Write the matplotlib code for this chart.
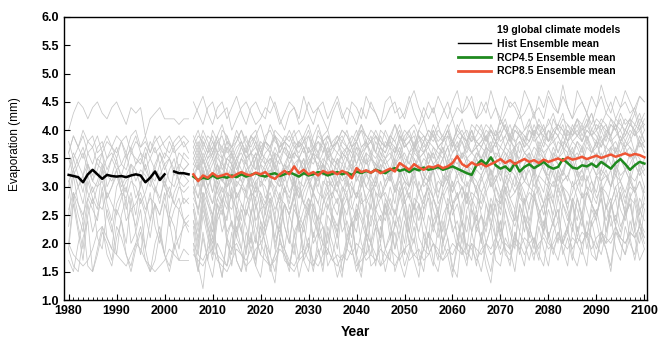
import numpy as np
import matplotlib.pyplot as plt
from matplotlib.lines import Line2D

plt.rcParams['font.family'] = ['Liberation Sans', 'DejaVu Sans']

HIST_START = 1980
FUT_START = 2006

# ensemble means (nan = gap in the curve)
hist_mean = [3.21, 3.19, 3.17, 3.08, 3.22, 3.30, 3.22, 3.14, 3.21, 3.19,
             3.18, 3.19, 3.17, 3.20, 3.22, 3.20, 3.08, 3.16, 3.27, 3.12,
             3.22, np.nan, 3.27, 3.24, 3.24, 3.22]

rcp45_mean = [3.18, 3.12, 3.16, 3.14, 3.20, 3.15, 3.18, 3.16, 3.20, 3.17,
              3.22, 3.18, 3.21, 3.24, 3.20, 3.18, 3.22, 3.24, 3.19, 3.22,
              3.26, 3.22, 3.18, 3.24, 3.20, 3.22, 3.26, 3.24, 3.20, 3.23,
              3.26, 3.22, 3.25, 3.21, 3.27, 3.24, 3.28, 3.25, 3.30, 3.27,
              3.24, 3.30, 3.33, 3.28, 3.31, 3.26, 3.32, 3.29, 3.34, 3.30,
              3.32, 3.35, 3.30, 3.33, 3.36, 3.32, 3.28, 3.24, 3.21, 3.38,
              3.47, 3.40, 3.52, 3.38, 3.32, 3.36, 3.28, 3.42, 3.27, 3.35,
              3.40, 3.33, 3.38, 3.44, 3.36, 3.32, 3.35, 3.49, 3.42, 3.34,
              3.32, 3.38, 3.36, 3.41, 3.35, 3.44, 3.38, 3.32, 3.42, 3.49,
              3.40, 3.30, 3.38, 3.44, 3.41]

rcp85_mean = [3.22, 3.10, 3.20, 3.16, 3.24, 3.18, 3.20, 3.23, 3.17, 3.22,
              3.26, 3.22, 3.20, 3.25, 3.22, 3.26, 3.18, 3.14, 3.22, 3.28,
              3.22, 3.36, 3.24, 3.30, 3.22, 3.26, 3.20, 3.28, 3.24, 3.27,
              3.22, 3.28, 3.24, 3.15, 3.33, 3.26, 3.29, 3.25, 3.30, 3.24,
              3.28, 3.32, 3.27, 3.42, 3.36, 3.30, 3.40, 3.34, 3.30, 3.36,
              3.34, 3.38, 3.33, 3.36, 3.42, 3.54, 3.40, 3.35, 3.43, 3.38,
              3.41, 3.36, 3.40, 3.44, 3.49, 3.42, 3.47, 3.40, 3.45, 3.49,
              3.44, 3.47, 3.42, 3.48, 3.44, 3.47, 3.50, 3.46, 3.52, 3.48,
              3.50, 3.53, 3.49, 3.52, 3.55, 3.51, 3.54, 3.57, 3.53, 3.56,
              3.59, 3.55, 3.58, 3.56, 3.52]

# individual GCMs, values in tenths of mm (1980-2005)
gcm_hist = [
    "40 43 45 44 42 44 45 43 42 44 45 43 41 44 43 44 39 42 43 44 42 42 42 41 42 42",
    "36 39 37 40 38 37 39 36 38 37 39 38 36 39 40 37 38 36 39 37 38 39 37 38 39 38",
    "38 35 37 39 36 34 37 38 35 37 36 38 35 37 39 36 35 38 36 37 35 38 36 37 38 36",
    "36 33 35 37 34 32 35 36 33 35 37 34 33 36 35 34 37 35 33 36 34 35 37 33 36 35",
    "30 35 32 29 34 31 33 36 30 32 35 31 29 34 33 30 36 32 31 34 30 33 35 31 33 34",
    "28 33 30 27 32 29 31 34 28 30 33 29 31 32 28 30 34 31 29 32 30 28 33 31 30 31",
    "25 32 27 24 31 28 26 33 27 24 30 32 26 29 25 31 28 24 30 27 32 25 29 31 27 28",
    "23 29 25 22 28 26 24 30 25 22 27 29 24 26 23 28 25 21 27 25 29 23 26 28 24 25",
    "19 16 15 21 24 15 18 22 20 17 23 21 18 16 20 23 19 15 17 22 18 15 19 21 23 24",
    "20 18 17 16 17 19 22 23 21 19 18 17 16 18 20 19 17 16 15 16 17 19 18 17 17 17",
    "20 28 23 19 27 22 25 29 21 19 26 24 20 28 22 18 25 29 23 20 27 24 19 26 24 23",
    "35 32 34 36 33 31 35 34 32 35 33 34 36 32 34 35 33 31 34 36 33 35 32 34 33 34",
    "31 28 30 32 29 27 30 31 28 30 32 29 28 31 30 27 29 32 30 28 31 29 27 30 29 30",
    "36 39 37 35 38 39 36 37 39 37 35 38 39 36 38 37 39 36 38 39 37 36 38 39 37 38",
    "26 29 27 25 28 30 27 26 29 27 25 28 30 26 27 29 26 28 27 25 28 30 27 26 28 27",
    "19 27 22 17 25 28 21 19 26 23 18 25 28 20 22 26 19 24 27 21 18 25 23 19 24 22",
    "33 36 34 32 36 37 34 33 35 36 34 32 35 37 34 36 33 35 37 34 36 35 33 36 35 34",
    "31 33 30 32 34 31 30 33 32 31 33 30 32 34 31 33 32 30 33 32 34 31 30 33 32 31",
    "17 15 20 24 16 15 19 23 18 16 21 24 18 15 19 22 17 15 20 23 18 16 20 17 19 18",
]

# individual GCM runs, RCP4.5, values in tenths of mm (2006-2100)
gcm_rcp45 = [
    "45 43 41 44 45 42 43 44 40 42 44 45 43 41 42 44 43 45 42 40 43 44 41 42 45 43 44 42 40 43 "
    "45 42 44 43 41 44 42 45 43 41 42 44 45 42 43 46 43 41 44 42 44 41 43 45 42 44 43 46 44 42 "
    "43 45 42 44 41 43 45 44 42 43 45 43 44 42 46 44 43 48 44 42 44 45 43 41 44 46 43 45 42 44 "
    "45 43 44 46 45",
    "39 37 40 38 36 39 41 38 37 40 38 36 39 40 37 38 41 39 37 38 40 38 37 39 41 38 36 39 40 37 "
    "38 40 39 37 38 41 39 38 40 38 37 39 41 38 40 39 37 40 42 39 38 40 39 41 38 40 42 39 38 41 "
    "40 38 41 39 40 42 39 41 40 38 41 43 40 39 42 40 41 43 39 40 42 40 41 43 40 42 41 39 42 41 "
    "40 42 41 43 40",
    "36 38 35 37 39 36 35 38 37 35 37 39 36 35 38 37 36 39 38 36 35 37 38 36 39 37 35 38 36 37 "
    "38 36 37 39 38 35 37 38 36 39 37 38 36 39 37 38 40 37 36 38 39 37 38 40 37 39 38 36 39 38 "
    "37 39 40 38 37 39 41 38 39 37 38 40 39 37 40 38 39 41 38 40 39 38 40 39 37 40 41 38 39 40 "
    "38 40 39 41 38",
    "34 36 33 35 37 34 32 35 36 33 35 37 34 33 36 35 34 37 35 33 36 34 35 37 33 36 35 34 37 35 "
    "34 36 35 33 37 36 34 35 38 36 34 35 37 36 34 36 38 35 36 37 35 37 36 34 36 38 35 37 36 35 "
    "37 36 38 35 37 36 34 37 38 36 35 37 36 38 37 35 38 37 36 38 37 35 38 36 37 39 36 37 38 36 "
    "38 37 36 39 37",
    "33 30 35 32 29 34 31 33 36 30 32 35 31 29 34 33 30 36 32 31 34 30 33 35 31 29 34 32 36 33 "
    "30 34 32 35 31 33 36 30 32 35 33 31 34 36 32 30 35 33 31 36 34 32 30 35 33 36 31 34 32 35 "
    "33 36 31 34 32 35 37 33 31 34 36 32 35 33 31 36 34 32 35 37 33 31 35 34 36 32 34 37 33 35 "
    "34 32 36 35 33",
    "31 28 33 30 27 32 29 31 34 28 30 33 29 31 32 28 30 34 31 29 32 30 28 33 31 29 32 34 30 31 "
    "29 33 31 28 32 30 33 29 31 34 30 32 29 33 31 28 32 34 30 31 33 29 31 34 30 32 28 33 31 30 "
    "32 34 30 31 33 29 32 30 34 31 30 33 31 29 34 32 30 33 31 35 32 30 34 31 29 33 32 30 34 31 "
    "33 31 29 34 32",
    "30 25 32 27 24 31 28 26 33 27 24 30 32 26 29 25 31 28 24 30 27 32 25 29 31 26 24 30 33 27 "
    "25 29 32 27 24 31 28 26 32 29 25 30 27 33 28 24 31 29 26 32 28 25 30 33 27 29 25 31 28 26 "
    "32 29 25 30 27 33 28 26 31 29 26 32 28 25 30 27 33 29 26 31 28 25 32 29 27 31 26 30 33 28 "
    "26 31 29 25 30",
    "27 23 29 25 22 28 26 24 30 25 22 27 29 24 26 23 28 25 21 27 25 29 23 26 28 24 22 27 30 25 "
    "23 27 29 24 22 28 25 23 29 26 24 28 25 30 26 22 28 27 24 29 26 23 28 30 25 27 23 29 26 24 "
    "29 27 23 28 25 30 26 24 29 27 24 29 26 23 28 25 30 27 24 28 26 23 29 27 25 28 24 27 30 26 "
    "24 28 27 23 28",
    "22 16 12 20 25 18 14 21 24 17 15 22 19 16 23 20 15 18 24 19 16 21 24 17 15 22 19 16 23 20 "
    "17 14 21 24 18 15 22 20 16 23 19 17 24 21 16 19 23 18 15 22 20 17 24 21 16 14 22 19 17 23 "
    "21 16 13 20 24 18 17 22 19 16 23 20 17 24 21 18 22 19 16 23 20 18 24 21 17 22 19 16 23 20 "
    "18 24 21 17 19",
    "20 18 17 19 21 18 17 16 19 20 18 17 19 21 18 17 16 18 20 19 17 16 18 19 17 16 18 20 19 17 "
    "18 17 19 18 20 19 17 18 17 19 18 17 16 18 19 17 18 19 17 18 20 18 17 19 18 20 19 18 20 19 "
    "18 20 19 21 18 20 19 21 20 18 20 21 19 22 20 19 21 20 22 19 21 20 22 21 19 22 21 20 22 21 "
    "20 22 21 23 20",
    "26 20 28 23 19 27 22 25 29 21 19 26 24 20 28 22 18 25 29 23 20 27 24 19 26 29 22 20 27 24 "
    "21 28 23 19 26 24 21 29 25 20 27 23 19 25 28 22 20 27 24 21 28 25 20 26 23 19 27 29 22 25 "
    "20 27 24 21 29 26 22 19 27 24 21 28 25 22 29 24 20 27 25 22 28 24 21 27 25 29 22 26 28 23 "
    "25 29 22 26 27",
    "33 35 32 34 36 33 31 35 34 32 35 33 34 36 32 34 35 33 31 34 36 33 35 32 34 36 33 35 34 32 "
    "35 34 36 33 32 35 34 36 33 35 34 32 35 37 34 33 36 35 33 36 34 35 37 33 35 34 36 34 33 36 "
    "35 37 34 36 35 33 36 37 34 35 36 34 37 35 33 36 35 37 34 36 35 37 34 36 38 35 34 37 36 35 "
    "37 35 36 38 36",
    "29 31 28 30 32 29 27 30 31 28 30 32 29 28 31 30 27 29 32 30 28 31 29 27 30 32 29 28 31 30 "
    "29 27 31 30 28 32 30 29 31 28 30 32 29 31 28 30 33 29 31 30 28 31 30 32 29 31 30 28 32 31 "
    "29 31 33 30 28 32 31 29 31 33 30 29 32 31 30 33 29 31 32 30 31 33 30 29 32 31 33 30 32 31 "
    "29 32 31 33 30",
    "38 36 39 37 35 38 39 36 37 39 37 35 38 39 36 38 37 39 36 38 39 37 36 38 40 37 38 36 39 37 "
    "38 39 37 36 38 40 37 38 39 37 36 39 38 40 37 38 39 36 38 40 39 37 38 40 38 36 39 38 40 37 "
    "38 40 39 37 39 41 38 37 40 39 38 41 39 40 38 39 41 40 38 39 40 38 41 39 40 38 39 41 40 38 "
    "39 41 40 38 40",
    "28 26 29 27 25 28 30 27 26 29 27 25 28 30 26 27 29 26 28 27 25 28 30 27 26 29 27 25 28 29 "
    "27 30 28 26 29 27 28 30 26 28 29 27 25 28 30 28 26 29 27 30 28 26 29 31 27 28 30 27 29 28 "
    "26 29 31 28 27 30 28 29 31 27 29 28 30 27 29 31 28 30 29 27 30 28 29 31 28 30 29 27 30 31 "
    "28 30 29 31 29",
    "24 19 27 22 18 25 28 21 19 26 23 18 25 28 20 22 26 19 24 27 21 18 25 23 19 27 24 20 18 25 "
    "22 27 19 24 26 20 18 25 23 21 27 24 19 22 26 20 25 27 21 19 24 26 20 23 27 21 18 25 22 26 "
    "20 24 27 21 19 26 23 20 27 24 22 19 25 27 21 24 26 20 23 27 21 25 19 24 26 22 20 27 23 21 "
    "25 27 22 20 26",
    "35 33 36 34 32 36 37 34 33 35 36 34 32 35 37 34 36 33 35 37 34 36 35 33 37 35 34 36 38 34 "
    "33 36 35 37 34 36 38 35 34 37 35 33 36 38 35 34 37 36 38 35 36 34 37 35 38 36 35 38 36 37 "
    "34 37 36 38 35 37 39 36 35 38 37 35 38 36 37 39 36 38 37 35 38 36 39 37 35 38 37 39 36 38 "
    "37 39 36 38 37",
    "32 31 33 30 32 34 31 30 33 32 31 33 30 32 34 31 33 32 30 33 32 34 31 30 33 32 31 34 32 30 "
    "33 31 32 34 31 33 30 32 34 33 31 32 34 33 31 30 33 35 32 31 33 34 32 31 34 32 33 35 31 33 "
    "32 34 33 31 35 33 32 34 33 31 34 32 35 33 32 34 31 33 35 34 32 33 35 34 32 33 36 34 32 35 "
    "33 34 36 33 34",
    "19 15 21 17 14 20 18 16 22 17 15 19 21 16 14 20 18 15 21 17 16 20 14 18 21 16 19 15 22 18 "
    "14 17 21 19 15 18 22 16 17 20 15 19 22 17 14 18 21 16 19 22 17 15 20 18 14 21 19 16 22 18 "
    "15 20 23 17 16 21 19 15 22 20 17 21 18 16 22 19 17 21 23 18 16 20 22 18 17 21 19 15 22 20 "
    "18 21 17 22 19",
]

# individual GCM runs, RCP8.5, values in tenths of mm (2006-2100)
gcm_rcp85 = [
    "42 44 46 43 41 44 45 42 44 46 43 41 44 45 43 42 46 44 41 43 45 44 42 46 43 41 44 45 42 44 "
    "46 43 41 45 44 42 46 44 43 41 45 46 43 44 42 45 47 44 42 45 43 46 44 42 45 47 43 44 46 42 "
    "45 43 47 44 42 46 44 45 43 47 45 42 46 44 47 45 43 46 44 42 47 45 43 46 44 48 45 43 46 44 "
    "47 45 43 46 45",
    "38 40 37 39 38 36 40 39 37 38 40 38 37 39 41 38 37 40 39 38 37 39 40 38 36 39 41 38 39 37 "
    "39 38 40 37 39 41 38 40 39 37 40 38 41 39 38 40 41 39 38 40 39 41 38 40 42 39 40 38 41 40 "
    "39 41 40 38 42 40 39 41 43 40 41 39 42 40 41 43 40 42 41 39 42 41 43 40 42 41 43 42 40 43 "
    "41 42 44 41 43",
    "37 35 38 36 37 39 36 38 35 37 38 36 39 37 35 38 37 39 36 38 37 35 38 39 36 37 39 38 36 38 "
    "39 37 36 38 40 37 38 36 39 38 37 39 38 36 39 40 37 38 39 37 40 38 39 37 38 40 39 37 40 38 "
    "39 37 40 38 39 41 38 40 39 37 40 39 41 38 40 39 41 40 38 41 39 40 42 39 41 40 38 41 40 42 "
    "39 41 40 42 41",
    "35 37 34 36 38 35 34 37 36 34 37 35 36 38 34 36 37 35 34 37 36 38 35 37 34 36 38 37 35 36 "
    "38 35 37 36 34 37 38 36 35 37 36 38 37 35 38 36 37 39 36 38 37 35 38 39 36 37 39 38 36 38 "
    "37 39 36 38 40 37 39 38 36 39 38 40 37 39 38 40 39 37 40 38 39 41 38 40 39 37 40 39 41 38 "
    "40 39 41 40 38",
    "32 34 31 33 35 32 34 33 31 35 33 32 34 36 32 33 35 34 32 34 33 31 35 34 32 36 33 34 32 35 "
    "34 32 35 33 36 34 32 35 34 33 35 36 33 34 32 36 35 33 35 34 36 33 35 37 34 33 36 35 34 36 "
    "35 33 37 35 34 36 35 37 34 36 35 33 37 36 34 37 35 36 38 35 36 34 37 36 38 35 37 36 34 38 "
    "36 37 35 38 36",
    "31 34 30 33 29 32 35 30 32 34 31 29 33 35 30 32 34 31 30 34 32 29 33 35 31 32 30 34 33 31 "
    "35 32 30 33 34 31 35 32 30 34 33 31 35 32 34 30 33 36 32 31 34 33 35 31 33 36 32 34 31 35 "
    "33 36 32 34 31 35 33 36 32 34 35 32 36 33 31 35 34 32 36 33 35 37 33 34 32 36 34 33 37 35 "
    "33 36 34 32 35",
    "29 26 31 28 25 30 27 32 28 26 30 29 25 31 28 26 32 29 27 30 26 28 31 27 25 30 32 28 26 29 "
    "31 27 25 30 28 32 27 29 26 31 28 25 30 32 27 29 26 31 28 30 33 27 29 26 31 28 30 27 32 29 "
    "27 30 33 28 26 31 29 32 28 27 30 33 29 27 31 28 32 30 27 29 33 28 30 27 32 29 31 33 28 30 "
    "27 32 29 31 28",
    "26 22 28 24 21 27 25 29 23 22 27 25 29 23 21 26 28 24 22 27 25 29 22 24 28 26 21 27 29 24 "
    "22 26 28 23 25 29 22 27 24 21 28 26 23 29 25 22 27 24 28 30 23 25 22 28 26 29 24 22 27 30 "
    "25 23 28 26 22 29 27 24 30 25 23 28 26 22 29 27 24 30 26 23 28 25 29 27 24 30 26 28 23 29 "
    "25 28 30 26 24",
    "20 15 22 17 24 18 14 21 16 23 19 15 22 17 24 20 16 13 21 18 15 22 24 17 19 15 21 23 16 18 "
    "22 15 19 24 17 14 21 18 23 16 19 22 15 18 24 20 17 14 22 19 16 23 18 21 15 19 24 17 20 16 "
    "22 18 15 21 24 19 16 22 18 25 20 17 23 19 16 22 24 18 21 17 23 19 16 24 20 18 22 25 19 17 "
    "23 20 18 24 21",
    "24 21 26 23 20 25 27 22 24 21 26 23 20 27 24 22 25 21 27 23 20 26 24 22 27 21 25 23 20 26 "
    "28 22 24 21 27 25 22 20 26 24 27 21 23 25 20 27 24 22 26 28 23 21 25 27 22 24 20 26 28 23 "
    "25 22 27 24 21 28 25 23 26 22 27 29 24 22 26 23 28 25 22 27 24 29 26 23 25 28 22 27 24 29 "
    "25 27 23 28 26",
    "37 39 38 36 40 38 37 39 36 38 40 37 39 38 36 39 40 38 37 39 38 40 37 38 39 36 40 38 39 37 "
    "38 40 39 37 38 40 39 38 36 40 39 37 39 41 38 39 37 40 39 38 41 39 38 40 37 41 39 40 38 39 "
    "41 38 40 39 42 40 38 41 39 40 42 39 41 40 38 42 40 39 41 40 42 39 41 43 40 41 39 42 41 40 "
    "42 41 43 40 42",
    "36 34 37 35 36 38 35 37 34 36 38 35 36 37 35 38 36 34 37 38 35 36 38 37 35 37 36 38 35 37 "
    "36 38 37 35 38 36 37 39 36 35 38 37 36 39 37 38 36 39 37 38 40 37 36 39 38 37 39 38 40 37 "
    "38 39 37 40 38 39 37 40 39 38 40 38 39 41 38 40 39 37 40 39 41 38 40 39 38 41 40 39 41 38 "
    "40 42 39 40 41",
    "18 17 16 18 19 17 16 15 17 19 18 16 17 19 20 18 16 17 19 18 16 15 17 18 20 17 16 18 19 17 "
    "16 18 17 19 16 17 18 20 18 16 17 19 18 17 19 20 18 17 19 18 20 19 17 18 20 19 18 20 19 17 "
    "19 20 18 19 21 19 18 20 19 21 20 18 20 21 19 20 22 20 19 21 20 22 21 19 21 22 20 21 23 21 "
    "20 22 21 23 21",
    "30 28 31 29 27 30 32 29 28 31 30 28 32 30 29 27 31 30 28 32 29 31 28 30 32 29 27 31 30 28 "
    "32 30 29 31 28 30 32 31 29 28 31 33 30 29 31 30 32 29 31 33 30 28 32 31 29 33 31 30 32 29 "
    "31 33 30 32 29 31 33 32 30 31 33 30 32 34 31 30 33 31 32 34 30 32 31 33 35 31 32 30 34 32 "
    "33 31 34 32 33",
    "23 18 25 21 17 24 26 20 18 25 22 19 26 21 18 24 27 20 23 19 25 22 17 24 26 20 22 18 25 23 "
    "19 26 21 24 18 22 27 20 23 25 19 21 26 23 18 24 27 21 19 25 22 26 20 23 27 21 24 19 26 22 "
    "25 20 23 27 21 24 19 26 22 28 23 20 25 27 21 24 26 20 23 28 22 25 21 26 24 20 27 23 25 22 "
    "26 21 28 24 22",
    "34 33 35 32 34 36 33 35 34 32 35 34 36 33 35 34 32 36 35 33 34 36 35 33 35 34 36 32 35 34 "
    "36 35 33 35 37 34 36 35 33 36 35 37 34 35 36 34 37 35 36 34 37 36 35 37 34 36 38 35 36 37 "
    "35 37 36 38 35 37 36 34 38 36 37 39 36 35 37 38 36 39 37 36 38 37 39 36 38 37 39 38 36 39 "
    "37 38 40 37 38",
]

y_ticks = [1.0, 1.5, 2.0, 2.5, 3.0, 3.5, 4.0, 4.5, 5.0, 5.5, 6.0]
x_ticks = [1980, 1990, 2000, 2010, 2020, 2030, 2040, 2050, 2060, 2070,
           2080, 2090, 2100]

fig = plt.figure(figsize=(6.58, 3.39), dpi=100)
ax = fig.add_axes([0.097, 0.115, 0.886, 0.835])

gray = '#c6c6c6'
for s in gcm_hist:
    v = np.array(s.split(), float) / 10
    ax.plot(HIST_START + np.arange(len(v)), v, color=gray, lw=0.55, zorder=1)
for s in gcm_rcp45 + gcm_rcp85:
    v = np.array(s.split(), float) / 10
    ax.plot(FUT_START + np.arange(len(v)), v, color=gray, lw=0.55, zorder=1)

ax.plot(HIST_START + np.arange(len(hist_mean)), hist_mean, color='black',
        lw=1.8, zorder=3)
ax.plot(FUT_START + np.arange(len(rcp45_mean)), rcp45_mean, color='#1f8a1f',
        lw=1.8, zorder=3)
ax.plot(FUT_START + np.arange(len(rcp85_mean)), rcp85_mean, color='#ee5535',
        lw=1.8, zorder=4)

ax.set_xlim(1979, 2100.5)
ax.set_ylim(1.0, 6.0)
ax.set_xticks(x_ticks)
ax.set_xticks(np.arange(1979, 2101), minor=True)
ax.set_yticks(y_ticks)
ax.set_yticklabels([f'{t:.1f}' for t in y_ticks])
ax.tick_params(axis='both', which='major', direction='in', length=4,
               labelsize=9, width=0.8)
ax.tick_params(axis='x', which='minor', direction='in', length=2, width=0.6)
for lab in ax.get_xticklabels() + ax.get_yticklabels():
    lab.set_fontweight('bold')
for sp in ax.spines.values():
    sp.set_linewidth(1.0)

ax.set_xlabel('Year', fontsize=10, fontweight='bold', labelpad=6)
ax.set_ylabel('Evaporation (mm)', fontsize=8.5)
ax.yaxis.set_label_coords(-0.074, 0.55)

handles = [Line2D([], [], color='none'),
           Line2D([], [], color='black', lw=1.0),
           Line2D([], [], color='#1f8a1f', lw=2.0),
           Line2D([], [], color='#ee5535', lw=2.0)]
labels = ['19 global climate models', 'Hist Ensemble mean',
          'RCP4.5 Ensemble mean', 'RCP8.5 Ensemble mean']
ax.legend(handles, labels, loc='upper right', bbox_to_anchor=(0.962, 0.985),
          frameon=False, prop={'size': 7.5, 'weight': 'bold'},
          handlelength=3.2, handletextpad=0.6, labelspacing=0.35,
          borderaxespad=0.0)

fig.savefig('out.png', dpi=100)
